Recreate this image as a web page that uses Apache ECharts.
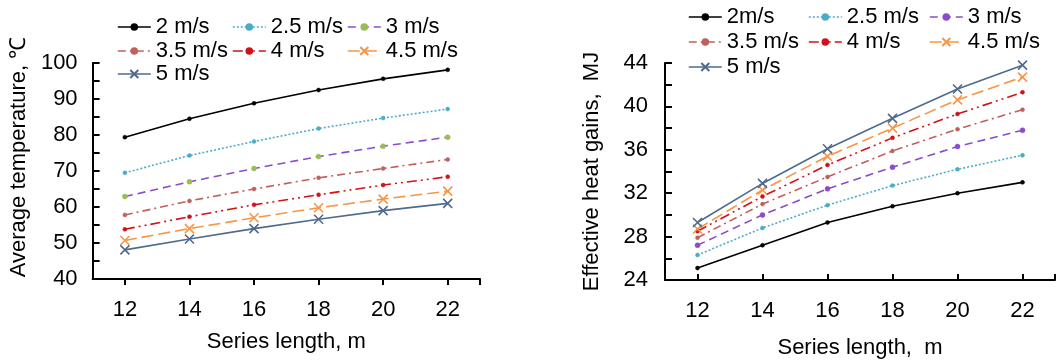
<!DOCTYPE html>
<html>
<head>
<meta charset="utf-8">
<script src="https://cdn.jsdelivr.net/npm/echarts@6/dist/echarts.min.js"></script>
<style>
  html, body { margin: 0; padding: 0; background: #fff; }
  #wrap { position: relative; width: 1059px; height: 364px; }
  #left { position: absolute; left: 0; top: 0; width: 530px; height: 364px; }
  #right { position: absolute; left: 530px; top: 0; width: 529px; height: 364px; }
</style>
</head>
<body>
<div id="wrap">
  <div id="left"></div>
  <div id="right"></div>
</div>
<script>
// series length, m
const lengths = [12, 14, 16, 18, 20, 22]
const xTickValues = [12, 14, 16, 18, 20, 22, 23]
const xLabelValues = [12, 14, 16, 18, 20, 22]

// average temperature, deg C (left)
const leftNames = ['2 m/s', '2.5 m/s', '3 m/s', '3.5 m/s', '4 m/s', '4.5 m/s', '5 m/s']
const temp2 = [79.4, 84.5, 88.8, 92.5, 95.6, 98.1]
const temp25 = [69.5, 74.3, 78.2, 81.8, 84.7, 87.2]
const temp3 = [62.9, 67.0, 70.7, 74.0, 76.9, 79.4]
const temp35 = [57.8, 61.7, 65.0, 68.1, 70.7, 73.2]
const temp4 = [53.8, 57.3, 60.6, 63.4, 66.1, 68.4]
const temp45 = [50.7, 54.0, 57.0, 59.8, 62.2, 64.4]
const temp5 = [48.1, 51.1, 54.0, 56.6, 59.0, 61.0]

// effective heat gains, MJ (right)
const rightNames = ['2m/s', '2.5 m/s', '3 m/s', '3.5 m/s', '4 m/s', '4.5 m/s', '5 m/s']
const heat2 = [25.1, 27.2, 29.3, 30.8, 32.0, 33.0]
const heat25 = [26.3, 28.8, 30.9, 32.7, 34.2, 35.5]
const heat3 = [27.2, 30.0, 32.4, 34.4, 36.3, 37.8]
const heat35 = [27.9, 31.0, 33.5, 35.9, 37.9, 39.7]
const heat4 = [28.5, 31.7, 34.6, 37.1, 39.3, 41.3]
const heat45 = [28.7, 32.3, 35.4, 38.0, 40.6, 42.7]
const heat5 = [29.3, 32.9, 36.1, 38.9, 41.6, 43.8]

const FONT = 'Liberation Sans, Arial, sans-serif'
const CROSS = 'path://M0,0L10,10M0,10L10,0'

// line look per speed: colour, dash, marker
const styles = [
	{ color: '#000000', type: 'solid', symbol: 'circle', size: 4 },
	{ color: '#4BACC6', type: [2, 2], symbol: 'circle', size: 4 },
	{ color: '#8A4CC8', type: [8, 5], symbol: 'circle', size: 5 },
	{ color: '#C0605C', type: [8, 4, 2, 4], symbol: 'circle', size: 4 },
	{ color: '#D0121B', type: [10, 4, 2, 4, 2, 4], symbol: 'circle', size: 4 },
	{ color: '#F79646', type: [12, 5], symbol: CROSS, size: 9 },
	{ color: '#4F6A8C', type: 'solid', symbol: CROSS, size: 9 },
]

const makeSeries = (names, rows, markerOverride) =>
	rows.map((vals, i) => {
		const s = styles[i]
		const marker = (markerOverride && markerOverride[i]) || s.color
		return {
			name: names[i],
			type: 'line',
			data: lengths.map((x, k) => [x, vals[k]]),
			symbol: s.symbol,
			symbolSize: s.size,
			lineStyle: { color: s.color, width: 1.6, type: s.type },
			itemStyle: { color: marker, borderColor: s.symbol === CROSS ? s.color : marker, borderWidth: s.symbol === CROSS ? 1.6 : 0.5 },
			emphasis: { disabled: true },
			animation: false,
		}
	})

// one legend per item so columns line up
const makeLegends = (names, cols, rows) =>
	names.map((n, i) => ({
		data: [{ name: n, lineStyle: { color: styles[i].color, width: 1.6, type: styles[i].type } }],
		left: cols[i % 3],
		top: rows[Math.floor(i / 3)],
		itemWidth: 33,
		itemHeight: styles[i].symbol === CROSS ? 10 : 7,
		itemGap: 0,
		padding: 0,
		selectedMode: false,
		textStyle: { fontFamily: FONT, fontSize: 22, color: '#000' },
	}))

const axisText = { fontFamily: FONT, fontSize: 22, color: '#000' }
const blackLine = { show: true, lineStyle: { color: '#000', width: 2 } }

const xAxisBase = (inside, nameGap, name) => ({
	type: 'value',
	min: 11,
	max: 23,
	name: name,
	nameLocation: 'middle',
	nameGap: nameGap,
	nameTextStyle: axisText,
	axisLine: blackLine,
	axisTick: { show: true, inside: inside, length: 6, customValues: xTickValues, lineStyle: { color: '#000', width: 2 } },
	axisLabel: { customValues: xLabelValues, margin: 20, ...axisText },
	splitLine: { show: false },
})

const yAxisBase = (min, max, step, every, name, nameGap, margin, pad) => ({
	type: 'value',
	min: min,
	max: max,
	interval: step,
	name: name,
	nameLocation: 'middle',
	nameGap: nameGap,
	nameTextStyle: { ...axisText, padding: pad },
	axisLine: blackLine,
	axisTick: { show: true, inside: true, length: 7, lineStyle: { color: '#000', width: 2 } },
	axisLabel: { show: true, margin: margin, ...axisText, formatter: (v) => (v % every === 0 ? String(v) : '') },
	splitLine: { show: false },
})

const leftChart = echarts.init(document.getElementById('left'))
leftChart.setOption({
	animation: false,
	grid: { left: 92, right: 50, top: 63, bottom: 85 },
	legend: makeLegends(leftNames, [117, 232, 347], [16, 40, 63]),
	xAxis: xAxisBase(false, 52, 'Series length, m'),
	yAxis: yAxisBase(40, 100, 5, 10, 'Average temperature, ℃', 60, 15, [0, 0, 0, 28]),
	series: makeSeries(leftNames, [temp2, temp25, temp3, temp35, temp4, temp45, temp5], [null, null, '#9BBB59']),
})

const rightChart = echarts.init(document.getElementById('right'))
rightChart.setOption({
	animation: false,
	grid: { left: 135, right: 4, top: 63, bottom: 84 },
	legend: makeLegends(rightNames, [158, 278, 399], [6, 31, 56]),
	xAxis: xAxisBase(true, 57, 'Series length,  m'),
	yAxis: yAxisBase(24, 44, 2, 4, 'Effective heat gains,  MJ', 62, 17, 0),
	series: makeSeries(rightNames, [heat2, heat25, heat3, heat35, heat4, heat45, heat5]),
})
</script>
</body>
</html>
